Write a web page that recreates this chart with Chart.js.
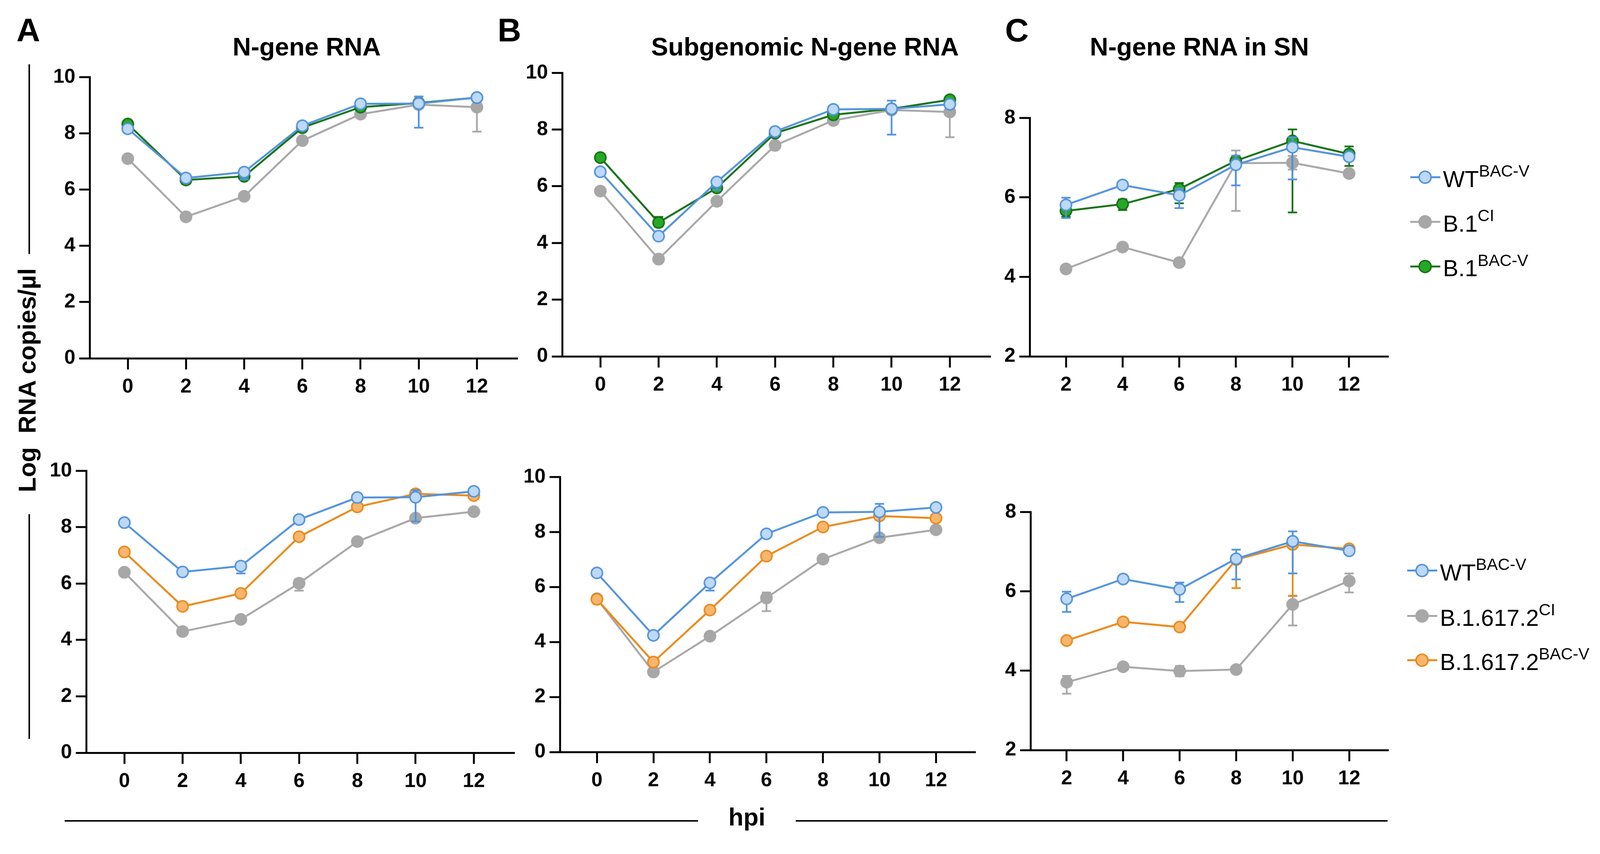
<!DOCTYPE html>
<html>
<head>
<meta charset="utf-8">
<script src="https://cdn.jsdelivr.net/npm/chart.js@4"></script>
<style>
  html, body { margin: 0; padding: 0; background: #fff; overflow: hidden; }
  #page { position: absolute; left: 0; top: 0; width: 4158px; height: 2186px; overflow: hidden;
          transform-origin: 0 0; font-family: "Liberation Sans", Arial, sans-serif; color: #000; }
  canvas { position: absolute; }
  .txt { position: absolute; white-space: nowrap; line-height: 1; }
  .letter { font-size: 85px; font-weight: bold; }
  .title { font-size: 66px; font-weight: bold; transform: translateX(-50%); }
  .rule { position: absolute; background: #000; }
  .leg { position: absolute; height: 60px; white-space: nowrap; }
  .leg .key { position: absolute; left: 0; top: 22px; width: 78px; height: 5px; }
  .leg .dot { position: absolute; left: 21px; top: 7px; width: 27px; height: 27px;
              border-radius: 50%; border: 4px solid; }
  .leg .lab { position: absolute; left: 85px; top: 0; font-size: 60px; line-height: 60px; }
  .leg sup { font-size: 43px; vertical-align: 27px; line-height: 0; }
</style>
</head>
<body>
<div id="page">
<div class="txt letter" style="left:43px; top:36px;">A</div>
<div class="txt letter" style="left:1293px; top:36px;">B</div>
<div class="txt letter" style="left:2612px; top:36px;">C</div>
<div class="txt title" style="left:797px; top:88px;">N-gene RNA</div>
<div class="txt title" style="left:2092px; top:88px;">Subgenomic N-gene RNA</div>
<div class="txt title" style="left:3117px; top:88px;">N-gene RNA in SN</div>

<div class="rule" style="left:74px; top:167px; width:4px; height:493px;"></div>
<div class="rule" style="left:74px; top:1336px; width:4px; height:584px;"></div>
<div class="txt" style="left:-280px; top:956px; width:700px; text-align:center; font-size:64px; font-weight:bold; transform:rotate(-90deg);">Log&nbsp;&nbsp;RNA copies/µl</div>

<div class="rule" style="left:168px; top:2131px; width:1646px; height:4px;"></div>
<div class="rule" style="left:2068px; top:2131px; width:1538px; height:4px;"></div>
<div class="txt" style="left:1941px; top:2091px; font-size:64px; font-weight:bold; transform:translateX(-50%);">hpi</div>
</div>

<script>
// x values (hours post infection)
const hpiAB = [0, 2, 4, 6, 8, 10, 12];
const hpiC = [2, 4, 6, 8, 10, 12];

// column A: N-gene RNA
const wtA = [8.16, 6.41, 6.62, 8.27, 9.05, 9.06, 9.27];
const wtAErr = [null, null, [0.26, 0.05], null, null, [0.86, 0.25], null];
const b1ciA = [7.10, 5.03, 5.76, 7.74, 8.68, 9.02, 8.93];
const b1ciAErr = [null, null, null, null, null, null, [0.87, 0.2]];
const b1bacA = [8.33, 6.34, 6.47, 8.20, 8.93, 9.08, 9.27];
const deltaCiA = [6.40, 4.30, 4.73, 6.01, 7.49, 8.32, 8.55];
const deltaCiAErr = [null, null, null, [0.26, 0.15], null, [0.1, 0.1], null];
const deltaBacA = [7.12, 5.19, 5.65, 7.66, 8.72, 9.18, 9.12];

// column B: subgenomic N-gene RNA
const wtB = [6.51, 4.24, 6.15, 7.93, 8.71, 8.73, 8.89];
const wtBErr = [null, null, [0.28, 0.05], null, null, [0.91, 0.29], null];
const b1ciB = [5.83, 3.43, 5.47, 7.44, 8.32, 8.69, 8.62];
const b1ciBErr = [null, null, null, null, null, null, [0.89, 0.1]];
const b1bacB = [7.01, 4.72, 5.94, 7.87, 8.52, 8.73, 9.05];
const b1bacBErr = [null, [0.15, 0.2], null, null, null, null, null];
const deltaCiB = [5.57, 2.91, 4.21, 5.60, 7.01, 7.79, 8.08];
const deltaCiBErr = [null, null, null, [0.48, 0.2], null, null, null];
const deltaBacB = [5.55, 3.27, 5.16, 7.12, 8.18, 8.58, 8.50];

// column C: N-gene RNA in SN
const wtC = [5.81, 6.31, 6.05, 6.82, 7.26, 7.02];
const wtCErr = [[0.33, 0.18], [0.05, 0.05], [0.32, 0.17], [0.52, 0.23], [0.81, 0.25], [0.05, 0.05]];
const b1ciC = [4.20, 4.75, 4.36, 6.86, 6.87, 6.60];
const b1ciCErr = [null, null, null, [1.2, 0.32], [0.17, 0.17], null];
const b1bacC = [5.66, 5.83, 6.21, 6.92, 7.42, 7.09];
const b1bacCErr = [[0.15, 0.1], [0.15, 0.12], [0.36, 0.15], [0.1, 0.1], [1.8, 0.29], [0.3, 0.19]];
const deltaCiC = [3.71, 4.10, 3.99, 4.03, 5.67, 6.26];
const deltaCiCErr = [[0.29, 0.16], null, [0.13, 0.13], null, [0.53, 0.22], [0.29, 0.19]];
const deltaBacC = [4.76, 5.23, 5.10, 6.80, 7.18, 7.07];
const deltaBacCErr = [null, [0.06, 0.06], null, [0.72, 0.1], [1.3, 0.1], null];

const yTicksAB = [0, 2, 4, 6, 8, 10];
const yTicksC = [2, 4, 6, 8];

const COLORS = {
  wt: { line: "#5393dc", fill: "#bdd9f6" },
  ci: { line: "#a7a7a7", fill: "#a7a7a7" },
  b1: { line: "#187218", fill: "#26a826" },
  delta: { line: "#e98a1c", fill: "#f7b66c" }
};

const FONT = "'Liberation Sans', Arial, sans-serif";

// the page is laid out at 4158x2186; fit it into whatever the viewport really is
var page = document.getElementById("page");
var fit = Math.min(window.innerWidth / 4158, window.innerHeight / 2186);
if (fit > 0 && Math.abs(fit - 1) > 0.001) page.style.transform = "scale(" + fit + ")";

function series(label, xs, ys, errs, c) {
  return {
    label: label,
    data: xs.map(function (x, i) { return { x: x, y: ys[i] }; }),
    errors: errs || [],
    borderColor: c.line,
    backgroundColor: c.fill,
    pointBorderColor: c.line,
    pointBackgroundColor: c.fill,
    borderWidth: 5,
    pointRadius: 14.5,
    pointBorderWidth: 4,
    tension: 0
  };
}

// error bars drawn under each dataset's own markers
const errorBars = {
  id: "errorBars",
  beforeDatasetDraw: function (chart, args) {
    var ds = chart.data.datasets[args.index];
    var xs = chart.scales.x, ys = chart.scales.y, ctx = chart.ctx;
    ctx.save();
    ctx.strokeStyle = ds.borderColor;
    ctx.lineWidth = 4.5;
    ds.data.forEach(function (p, i) {
      var e = ds.errors[i];
      if (!e) return;
      var px = xs.getPixelForValue(p.x);
      var lo = ys.getPixelForValue(p.y - e[0]);
      var hi = ys.getPixelForValue(p.y + e[1]);
      ctx.beginPath();
      ctx.moveTo(px, lo); ctx.lineTo(px, hi);
      ctx.moveTo(px - 12, lo); ctx.lineTo(px + 12, lo);
      ctx.moveTo(px - 12, hi); ctx.lineTo(px + 12, hi);
      ctx.stroke();
    });
    ctx.restore();
  }
};

function axisCommon(tickLength, padding) {
  return {
    ticks: { color: "#000", padding: padding, font: { family: FONT, size: 52, weight: "bold" } },
    grid: { drawOnChartArea: false, drawTicks: true, tickLength: tickLength, lineWidth: 5, tickWidth: 5, color: "#000", tickColor: "#000" },
    border: { display: true, color: "#000", width: 5 }
  };
}

var Y_W = 140, X_H = 110, PAD_T = 40, PAD_R = 20;

function panel(geo, xs, xRange, yTicks, datasets) {
  var cv = document.createElement("canvas");
  var w = Y_W + (geo.right - geo.axis) + PAD_R;
  var h = PAD_T + (geo.bottom - geo.top) + X_H;
  cv.width = w; cv.height = h;
  cv.style.left = (geo.axis - Y_W) + "px";
  cv.style.top = (geo.top - PAD_T) + "px";
  page.appendChild(cv);

  var xAxis = axisCommon(29, 14);
  xAxis.type = "linear";
  xAxis.min = xRange[0]; xAxis.max = xRange[1];
  xAxis.afterBuildTicks = function (s) { s.ticks = xs.map(function (v) { return { value: v }; }); };
  xAxis.afterFit = function (s) { s.height = X_H; };
  xAxis.ticks.autoSkip = false;
  xAxis.ticks.maxRotation = 0;

  var yAxis = axisCommon(27, 10);
  yAxis.min = yTicks[0]; yAxis.max = yTicks[yTicks.length - 1];
  yAxis.afterBuildTicks = function (s) { s.ticks = yTicks.map(function (v) { return { value: v }; }); };
  yAxis.afterFit = function (s) { s.width = Y_W; };

  return new Chart(cv, {
    type: "line",
    data: { datasets: datasets },
    options: {
      responsive: false,
      animation: false,
      devicePixelRatio: 1,
      layout: { padding: { top: PAD_T, right: PAD_R, left: 0, bottom: 0 } },
      plugins: { legend: { display: false }, tooltip: { enabled: false } },
      scales: { x: xAxis, y: yAxis }
    },
    plugins: [errorBars]
  });
}

var rangeAB = [-1.31, 13.37];
var rangeC = [0.72, 13.36];

// first dataset is drawn on top
panel({ axis: 233, top: 199, right: 1343, bottom: 931 }, hpiAB, rangeAB, yTicksAB, [
  series("WT BAC-V", hpiAB, wtA, wtAErr, COLORS.wt),
  series("B.1 BAC-V", hpiAB, b1bacA, null, COLORS.b1),
  series("B.1 CI", hpiAB, b1ciA, b1ciAErr, COLORS.ci)
]);
panel({ axis: 224, top: 1222, right: 1335, bottom: 1956 }, hpiAB, rangeAB, yTicksAB, [
  series("WT BAC-V", hpiAB, wtA, wtAErr, COLORS.wt),
  series("B.1.617.2 BAC-V", hpiAB, deltaBacA, null, COLORS.delta),
  series("B.1.617.2 CI", hpiAB, deltaCiA, deltaCiAErr, COLORS.ci)
]);
panel({ axis: 1461, top: 188, right: 2572, bottom: 926 }, hpiAB, rangeAB, yTicksAB, [
  series("WT BAC-V", hpiAB, wtB, wtBErr, COLORS.wt),
  series("B.1 BAC-V", hpiAB, b1bacB, b1bacBErr, COLORS.b1),
  series("B.1 CI", hpiAB, b1ciB, b1ciBErr, COLORS.ci)
]);
panel({ axis: 1455, top: 1238, right: 2533, bottom: 1954 }, hpiAB, rangeAB, yTicksAB, [
  series("WT BAC-V", hpiAB, wtB, wtBErr, COLORS.wt),
  series("B.1.617.2 BAC-V", hpiAB, deltaBacB, null, COLORS.delta),
  series("B.1.617.2 CI", hpiAB, deltaCiB, deltaCiBErr, COLORS.ci)
]);
panel({ axis: 2676, top: 305, right: 3606, bottom: 926 }, hpiC, rangeC, yTicksC, [
  series("WT BAC-V", hpiC, wtC, wtCErr, COLORS.wt),
  series("B.1 BAC-V", hpiC, b1bacC, b1bacCErr, COLORS.b1),
  series("B.1 CI", hpiC, b1ciC, b1ciCErr, COLORS.ci)
]);
panel({ axis: 2678, top: 1329, right: 3606, bottom: 1949 }, hpiC, rangeC, yTicksC, [
  series("WT BAC-V", hpiC, wtC, wtCErr, COLORS.wt),
  series("B.1.617.2 BAC-V", hpiC, deltaBacC, deltaBacCErr, COLORS.delta),
  series("B.1.617.2 CI", hpiC, deltaCiC, deltaCiCErr, COLORS.ci)
]);

// legends with superscripts
function legend(left, rows) {
  rows.forEach(function (r) {
    var d = document.createElement("div");
    d.className = "leg";
    d.style.left = left + "px";
    d.style.top = (r.y - 24) + "px";
    d.innerHTML = '<span class="key" style="background:' + r.c.line + '"></span>' +
      '<span class="dot" style="background:' + r.c.fill + ';border-color:' + r.c.line + '"></span>' +
      '<span class="lab">' + r.name + "<sup>" + r.sup + "</sup></span>";
    page.appendChild(d);
  });
}
legend(3665, [
  { y: 460, c: COLORS.wt, name: "WT", sup: "BAC-V" },
  { y: 576, c: COLORS.ci, name: "B.1", sup: "CI" },
  { y: 692, c: COLORS.b1, name: "B.1", sup: "BAC-V" }
]);
legend(3657, [
  { y: 1482, c: COLORS.wt, name: "WT", sup: "BAC-V" },
  { y: 1600, c: COLORS.ci, name: "B.1.617.2", sup: "CI" },
  { y: 1715, c: COLORS.delta, name: "B.1.617.2", sup: "BAC-V" }
]);
</script>
</body>
</html>
